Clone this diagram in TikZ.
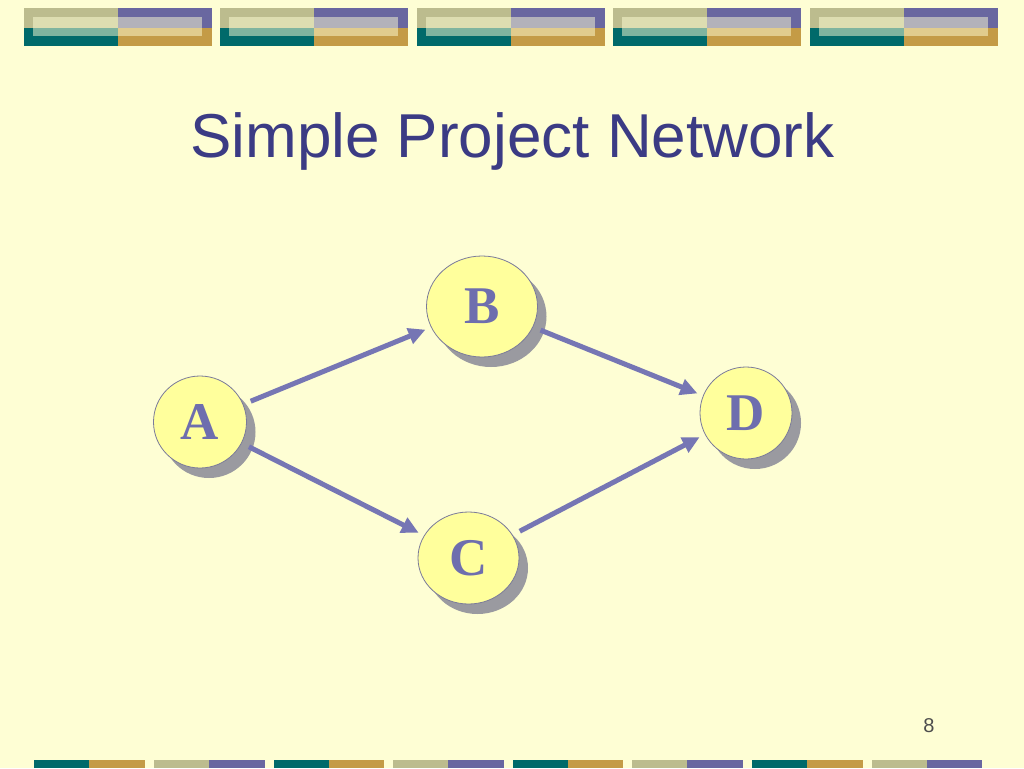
\documentclass[tikz,border=0pt]{standalone}
\usepackage{fontspec}
\setmainfont{Liberation Sans}
\newfontfamily\serifbold{Liberation Serif}
\usetikzlibrary{shapes.geometric,arrows.meta,shadows}
\definecolor{bgcol}{HTML}{FEFED4}
\definecolor{olivecol}{HTML}{BCBC8E}
\definecolor{purplecol}{HTML}{6967A0}
\definecolor{tealcol}{HTML}{006A6A}
\definecolor{goldcol}{HTML}{C49B46}
\definecolor{titlecol}{HTML}{3B3B84}
\definecolor{nodefill}{HTML}{FFFF9C}
\definecolor{nodeborder}{HTML}{7A7A9A}
\definecolor{lettercol}{HTML}{6E6EAE}
\definecolor{shadowcol}{HTML}{9A9AA0}
\definecolor{arrowcol}{HTML}{7676B4}
\definecolor{numcol}{HTML}{4D4D4D}
\tikzset{
  netnode/.style={ellipse, draw=nodeborder, fill=nodefill, line width=0.8pt, inner sep=0pt,
    text=lettercol, font=\serifbold\bfseries\fontsize{53}{53}\selectfont,
    drop shadow={shadow xshift=9pt, shadow yshift=-10pt, fill=shadowcol, opacity=1, draw=none}},
  netarrow/.style={draw=arrowcol, line width=5pt, -{Triangle[length=17pt,width=16pt]},
    shorten <=8pt, shorten >=6pt},
}
\begin{document}
\begin{tikzpicture}[x=1pt,y=-1pt]
\useasboundingbox (0,0) rectangle (1024,768);
\fill[bgcol] (0,0) rectangle (1024,768);
% top banner blocks
\foreach \i in {0,...,4}{
  \pgfmathsetmacro{\xo}{24+\i*196.4}
  \fill[olivecol] (\xo,8) rectangle ++(94,20);
  \fill[purplecol] ({\xo+94},8) rectangle ++(94,20);
  \fill[tealcol] (\xo,28) rectangle ++(94,18);
  \fill[goldcol] ({\xo+94},28) rectangle ++(94,18);
  \fill[bgcol,opacity=0.5] ({\xo+9},17.5) rectangle ({\xo+178},36);
}
% bottom bars
\foreach \j in {0,...,7}{
  \pgfmathsetmacro{\xo}{34.3+\j*119.6}
  \pgfmathtruncatemacro{\odd}{mod(\j,2)}
  \ifnum\odd=0
    \fill[tealcol] (\xo,760) rectangle ++(55,8);
    \fill[goldcol] ({\xo+55},760) rectangle ++(55.7,8);
  \else
    \fill[olivecol] (\xo,760) rectangle ++(55,8);
    \fill[purplecol] ({\xo+55},760) rectangle ++(55.7,8);
  \fi
}
% title
\node[anchor=base, text=titlecol, font=\fontsize{62}{62}\selectfont, inner sep=0pt] (title) at (512.5,157) {Simple Project Network};
% nodes
\node[netnode, minimum width=93pt, minimum height=92pt] (A) at (200,422) {A};
\node[netnode, minimum width=111pt, minimum height=101pt] (B) at (482,306.5) {B};
\node[netnode, minimum width=101pt, minimum height=92pt] (C) at (468.5,558) {C};
\node[netnode, minimum width=92pt, minimum height=92pt] (D) at (746,413) {D};
% arrows
\draw[netarrow] (A) -- (B);
\draw[netarrow] (A) -- (C);
\draw[netarrow] (B) -- (D);
\draw[netarrow] (C) -- (D);
% page number
\node[text=numcol, font=\fontsize{20}{20}\selectfont, inner sep=0pt] (pnum) at (929,725.5) {8};
\end{tikzpicture}
\end{document}
